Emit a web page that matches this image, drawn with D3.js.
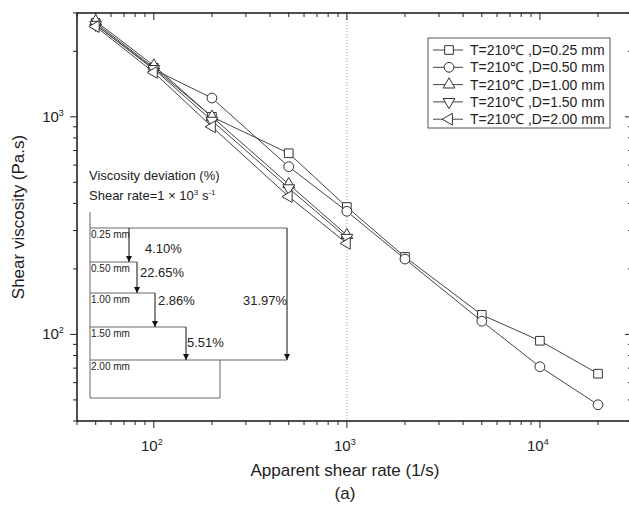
<!DOCTYPE html>
<html>
<head>
<meta charset="utf-8">
<script src="https://cdn.jsdelivr.net/npm/d3@7"></script>
<style>
  body { margin: 0; background: #fff; }
  svg { font-family: "Liberation Sans", Arial, sans-serif; }
</style>
</head>
<body>
<div id="chart"></div>
<script>
// shear rates (1/s)
var ratesLong = [50, 100, 200, 500, 1000, 2000, 5000, 10000, 20000];
var ratesShort = [50, 100, 200, 500, 1000];

// viscosity (Pa.s)
var visc025 = [2700, 1680, 1000, 680, 385, 227, 123, 93.5, 66];
var visc050 = [2650, 1650, 1220, 590, 368, 222, 115, 71, 47.5];
var visc100 = [2750, 1720, 1000, 490, 286];
var visc150 = [2650, 1660, 960, 470, 278];
var visc200 = [2600, 1600, 900, 430, 262];

var legendLabels = ["T=210\u2103 ,D=0.25 mm", "T=210\u2103 ,D=0.50 mm", "T=210\u2103 ,D=1.00 mm",
                    "T=210\u2103 ,D=1.50 mm", "T=210\u2103 ,D=2.00 mm"];
var insetLabels = ["0.25 mm", "0.50 mm", "1.00 mm", "1.50 mm", "2.00 mm"];
var deviations = ["4.10%", "22.65%", "2.86%", "5.51%"];
var totalDeviation = "31.97%";

var w = 629, h = 511;
var pL = 77, pR = 632, pT = 13, pB = 421;

var svg = d3.select("#chart").append("svg").attr("width", w).attr("height", h);

var x = d3.scaleLog().domain([40, 30000]).range([pL, pR]);
var y = d3.scaleLog().domain([40, 3000]).range([pB, pT]);

var ink = "#222";

// dotted reference line at 1e3
svg.append("line")
   .attr("x1", x(1000)).attr("x2", x(1000))
   .attr("y1", pT).attr("y2", pB)
   .attr("stroke", "#999").attr("stroke-dasharray", "1,2");

// ticks
function logTicks(lo, hi) {
    var t = [];
    for (var p = 1; p <= 5; p++) {
        for (var m = 1; m < 10; m++) {
            var v = m * Math.pow(10, p);
            if (v >= lo && v <= hi) t.push({v: v, major: m === 1});
        }
    }
    return t;
}
var xt = logTicks(40, 30000), yt = logTicks(40, 3000);

var g = svg.append("g").attr("stroke", ink).attr("stroke-width", 1);
xt.forEach(function(t) {
    var len = t.major ? 7 : 4;
    g.append("line").attr("x1", x(t.v)).attr("x2", x(t.v)).attr("y1", pB).attr("y2", pB + len);
    g.append("line").attr("x1", x(t.v)).attr("x2", x(t.v)).attr("y1", pT).attr("y2", pT + len);
});
yt.forEach(function(t) {
    var len = t.major ? 7 : 4;
    g.append("line").attr("x1", pL).attr("x2", pL - len).attr("y1", y(t.v)).attr("y2", y(t.v));
    g.append("line").attr("x1", pR).attr("x2", pR - len).attr("y1", y(t.v)).attr("y2", y(t.v));
});
svg.append("rect").attr("x", pL).attr("y", pT).attr("width", pR - pL).attr("height", pB - pT)
   .attr("fill", "none").attr("stroke", ink).attr("stroke-width", 1.6);

function powLabel(sel, exp) {
    sel.append("tspan").text("10");
    sel.append("tspan").attr("dy", -6).attr("font-size", 9).text(exp);
}
[100, 1000, 10000].forEach(function(v) {
    var t = svg.append("text").attr("x", x(v) - 2).attr("y", pB + 30)
       .attr("text-anchor", "middle").attr("font-size", 15).attr("fill", ink);
    powLabel(t, Math.log10(v));
});
[100, 1000].forEach(function(v) {
    var t = svg.append("text").attr("x", pL - 24).attr("y", y(v) + 5)
       .attr("text-anchor", "middle").attr("font-size", 15).attr("fill", ink);
    powLabel(t, Math.log10(v));
});

svg.append("text").attr("x", 345).attr("y", 476).attr("text-anchor", "middle")
   .attr("font-size", 17).attr("fill", ink).text("Apparent shear rate (1/s)");
svg.append("text").attr("x", 345).attr("y", 499).attr("text-anchor", "middle")
   .attr("font-size", 17).attr("fill", ink).text("(a)");
svg.append("text").attr("transform", "translate(24," + (pT + pB) / 2 + ") rotate(-90)")
   .attr("text-anchor", "middle").attr("font-size", 17).attr("fill", ink).text("Shear viscosity (Pa.s)");

// series
var series = [
    {rates: ratesLong, vals: visc025, shape: d3.symbolSquare, rot: 0, size: 75},
    {rates: ratesLong, vals: visc050, shape: d3.symbolCircle, rot: 0, size: 75},
    {rates: ratesShort, vals: visc100, shape: d3.symbolTriangle, rot: 0, size: 60},
    {rates: ratesShort, vals: visc150, shape: d3.symbolTriangle, rot: 180, size: 60},
    {rates: ratesShort, vals: visc200, shape: d3.symbolTriangle, rot: -90, size: 60}
];

var line = d3.line().x(function(d) { return x(d[0]); }).y(function(d) { return y(d[1]); });

series.forEach(function(s) {
    var pts = s.rates.map(function(r, i) { return [r, s.vals[i]]; });
    svg.append("path").attr("d", line(pts)).attr("fill", "none").attr("stroke", "#444").attr("stroke-width", 1);
});
series.forEach(function(s) {
    var pts = s.rates.map(function(r, i) { return [r, s.vals[i]]; });
    svg.selectAll(null).data(pts).enter().append("path")
       .attr("d", d3.symbol().type(s.shape).size(s.size))
       .attr("transform", function(d) { return "translate(" + x(d[0]) + "," + y(d[1]) + ") rotate(" + s.rot + ")"; })
       .attr("fill", "#fff").attr("stroke", "#333").attr("stroke-width", 1);
});

// legend
var lg = svg.append("g").attr("transform", "translate(428,38)");
lg.append("rect").attr("width", 182).attr("height", 90).attr("fill", "#fff").attr("stroke", "#555");
series.forEach(function(s, i) {
    var yy = 12 + i * 17.3;
    lg.append("line").attr("x1", 5).attr("x2", 35).attr("y1", yy).attr("y2", yy).attr("stroke", "#444");
    lg.append("path").attr("d", d3.symbol().type(s.shape).size(s.size))
      .attr("transform", "translate(21," + yy + ") rotate(" + s.rot + ")")
      .attr("fill", "#fff").attr("stroke", "#333");
    lg.append("text").attr("x", 42).attr("y", yy + 5).attr("font-size", 14).attr("fill", ink).text(legendLabels[i]);
});

// inset: viscosity deviation staircase
var inset = svg.append("g");
inset.append("text").attr("x", 89).attr("y", 180).attr("font-size", 13).attr("fill", ink).text("Viscosity deviation (%)");
var sr = inset.append("text").attr("x", 89).attr("y", 200).attr("font-size", 13).attr("fill", ink);
sr.append("tspan").text("Shear rate=1 \u00d7 10");
sr.append("tspan").attr("dy", -5).attr("font-size", 8).text("3");
sr.append("tspan").attr("dy", 5).text(" s");
sr.append("tspan").attr("dy", -5).attr("font-size", 8).text("-1");

var levels = [228, 262, 293, 327, 360];
var stepX = [129, 137, 155, 186];
var grey = "#666";
svg.append("defs").append("marker").attr("id", "arr").attr("viewBox", "0 0 8 10")
   .attr("refX", 8).attr("refY", 5).attr("markerWidth", 6).attr("markerHeight", 8)
   .attr("orient", "auto").append("path").attr("d", "M0,1L8,5L0,9Z").attr("fill", "#111");

inset.append("line").attr("x1", 90).attr("x2", 90).attr("y1", 212).attr("y2", 398).attr("stroke", grey);
inset.append("line").attr("x1", 90).attr("x2", 287).attr("y1", levels[0]).attr("y2", levels[0]).attr("stroke", grey);
inset.append("line").attr("x1", 90).attr("x2", 287).attr("y1", levels[4]).attr("y2", levels[4]).attr("stroke", grey);
for (var i = 1; i < 4; i++) {
    inset.append("line").attr("x1", 90).attr("x2", stepX[i]).attr("y1", levels[i]).attr("y2", levels[i]).attr("stroke", grey);
}
inset.append("line").attr("x1", 220).attr("x2", 220).attr("y1", levels[4]).attr("y2", 398).attr("stroke", grey);
inset.append("line").attr("x1", 90).attr("x2", 220).attr("y1", 398).attr("y2", 398).attr("stroke", grey);

stepX.forEach(function(sx, i) {
    inset.append("line").attr("x1", sx).attr("x2", sx).attr("y1", levels[i]).attr("y2", levels[i + 1])
         .attr("stroke", "#111").attr("marker-end", "url(#arr)");
});
inset.append("line").attr("x1", 287).attr("x2", 287).attr("y1", levels[0]).attr("y2", levels[4])
     .attr("stroke", "#111").attr("marker-end", "url(#arr)");

insetLabels.forEach(function(t, i) {
    inset.append("text").attr("x", 91).attr("y", levels[i] + 10).attr("font-size", 10).attr("fill", ink).text(t);
});
var devPos = [[145, 253], [140, 277], [158, 305], [187, 347]];
deviations.forEach(function(t, i) {
    inset.append("text").attr("x", devPos[i][0]).attr("y", devPos[i][1]).attr("font-size", 13).attr("fill", ink).text(t);
});
inset.append("text").attr("x", 243).attr("y", 305).attr("font-size", 13).attr("fill", ink).text(totalDeviation);
</script>
</body>
</html>
